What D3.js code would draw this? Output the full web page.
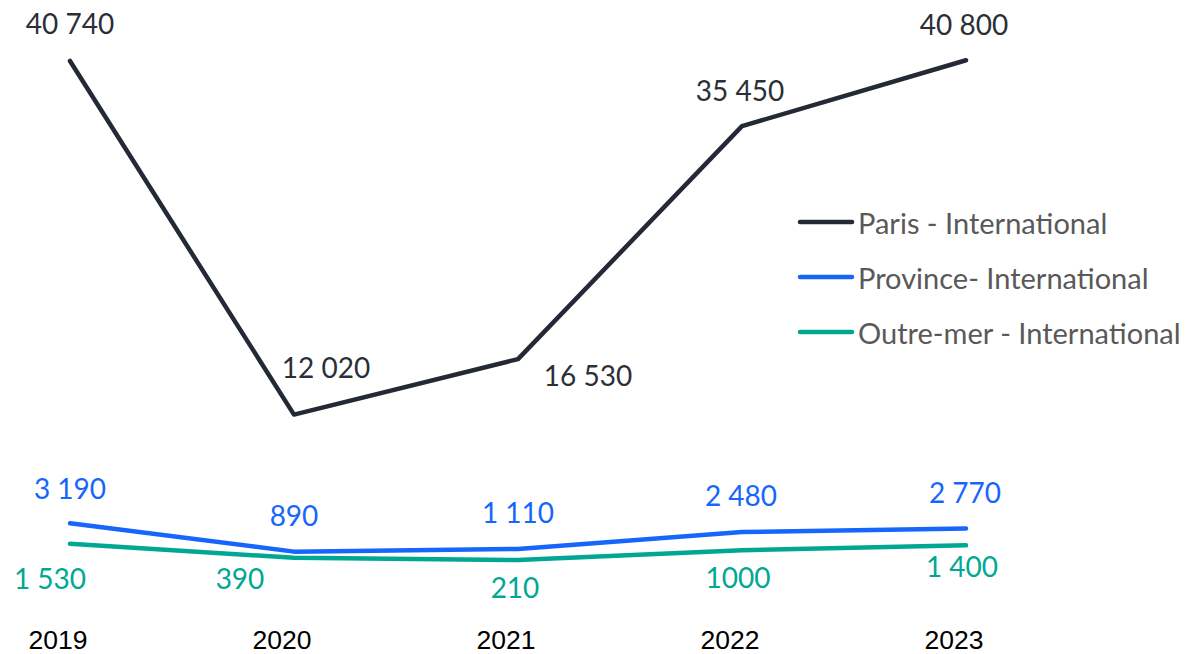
<!DOCTYPE html>
<html><head><meta charset="utf-8">
<script src="https://cdn.jsdelivr.net/npm/d3@7"></script>
<style>html,body{margin:0;padding:0;background:#fff;}svg{display:block;}</style>
</head><body>
<script>
const years = ["2019","2020","2021","2022","2023"];
const paris = [40740, 12020, 16530, 35450, 40800];
const province = [3190, 890, 1110, 2480, 2770];
const outremer = [1530, 390, 210, 1000, 1400];
const parisLabels = ["40 740","12 020","16 530","35 450","40 800"];
const provinceLabels = ["3 190","890","1 110","2 480","2 770"];
const outremerLabels = ["1 530","390","210","1000","1 400"];
const seriesNames = ["Paris - International","Province- International","Outre-mer - International"];

const W = 1189, H = 654;
const svg = d3.select("body").append("svg").attr("width", W).attr("height", H);

const x = d3.scalePoint().domain(years).range([70, 966]);
const y = d3.scaleLinear().domain([0, 40000]).range([562.6, 70.1]);

const series = [
  {name: seriesNames[0], values: paris, labels: parisLabels, color: "#232a35", text: "#2b2f38",
   off: [[0,-38],[32,-48],[70,16],[-2,-36],[-2,-36]]},
  {name: seriesNames[1], values: province, labels: provinceLabels, color: "#1766fb", text: "#1766fb",
   off: [[0,-35],[0,-37],[0,-37],[-1,-37],[-1,-36.5]]},
  {name: seriesNames[2], values: outremer, labels: outremerLabels, color: "#00a893", text: "#00a893",
   off: [[-20,34],[-54,20],[-3,27],[-4,27],[-4,21]]}
];

const line = d3.line().x((d,i)=>x(years[i])).y(d=>y(d));

const font = "Lato, 'Open Sans', sans-serif";

series.slice().reverse().forEach(s => {
  svg.append("path").attr("d", line(s.values))
    .attr("fill","none").attr("stroke", s.color).attr("stroke-width", 4.5)
    .attr("stroke-linecap","round").attr("stroke-linejoin","round");
});

series.forEach(s => {
  svg.append("g").selectAll("text").data(s.values).join("text")
    .attr("x", (d,i)=>x(years[i]) + s.off[i][0])
    .attr("y", (d,i)=>y(d) + s.off[i][1])
    .attr("text-anchor","middle").attr("dominant-baseline","central")
    .attr("font-family", font).attr("font-size", 28).attr("fill", s.text)
    .text((d,i)=>s.labels[i]);
});

// x axis labels
svg.append("g").selectAll("text").data(years).join("text")
  .attr("x", d=>x(d) - 12).attr("y", 640)
  .attr("text-anchor","middle").attr("dominant-baseline","central")
  .attr("font-family","'Liberation Sans', Arial, sans-serif").attr("font-size", 26.5).attr("fill","#000")
  .text(d=>d);

// legend
const lg = svg.append("g").attr("transform","translate(798,222)");
series.forEach((s,i) => {
  const g = lg.append("g").attr("transform", `translate(0,${i*55})`);
  g.append("line").attr("x1",2).attr("x2",54).attr("y1",0).attr("y2",0)
    .attr("stroke", s.color).attr("stroke-width",4.5).attr("stroke-linecap","round");
  g.append("text").attr("x",60).attr("y",0).attr("dominant-baseline","central")
    .attr("font-family", font).attr("font-size",29).attr("fill","#595959").text(s.name);
});
</script>
</body></html>
